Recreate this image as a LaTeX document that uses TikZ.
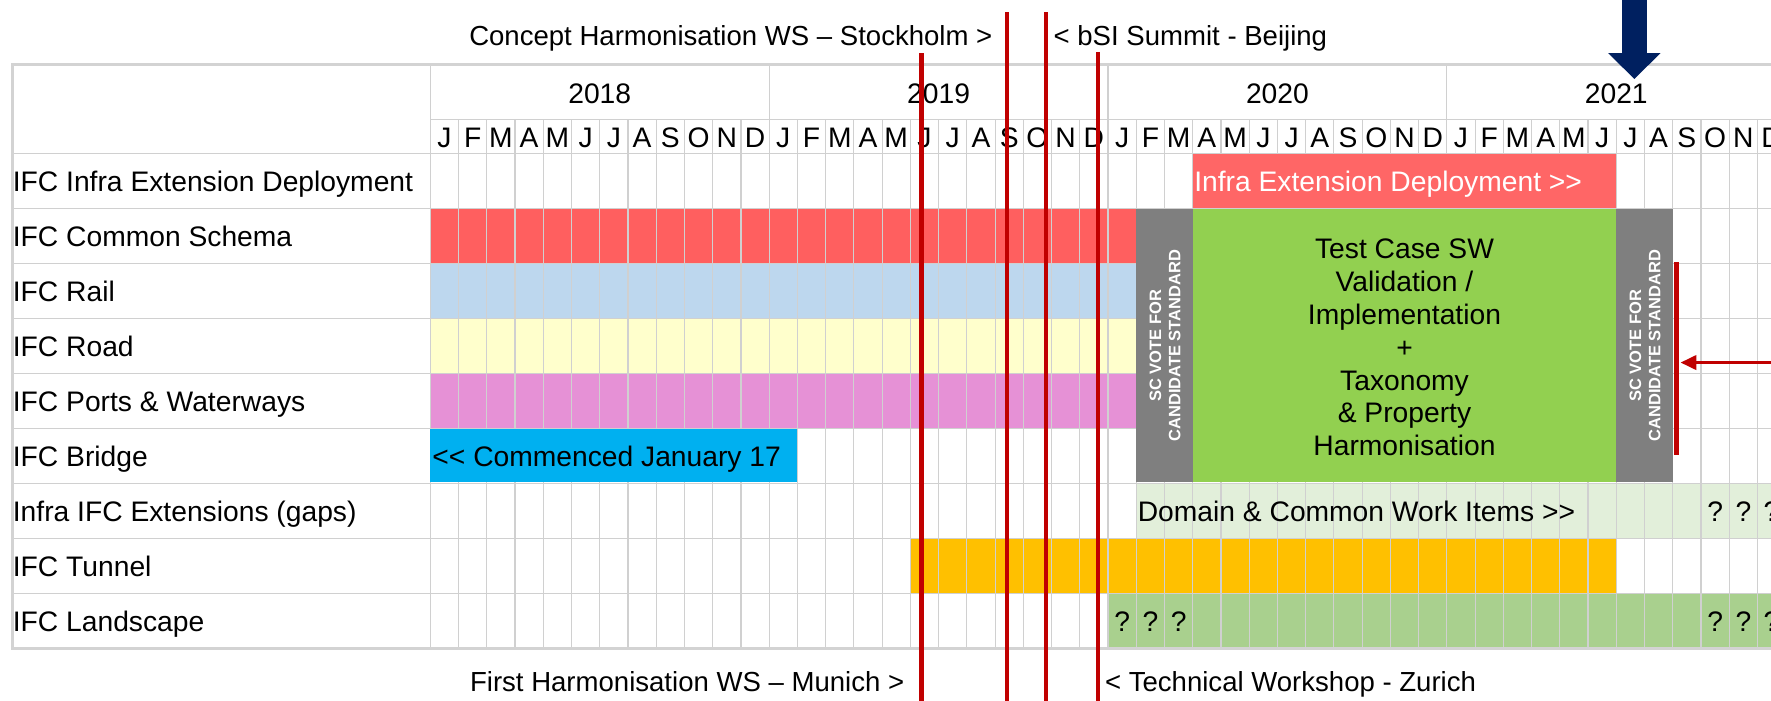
\documentclass[tikz,border=0pt]{standalone}
\usepackage{fontspec}
\setmainfont{Liberation Sans}[Ligatures=TeXOff]
\usetikzlibrary{arrows.meta}
\definecolor{cGrid}{HTML}{D0D0D0}
\definecolor{cBorder}{HTML}{D3D3D3}
\definecolor{cSchema}{HTML}{FF5F5F}
\definecolor{cDeploy}{HTML}{FF6666}
\definecolor{cRail}{HTML}{BDD7EE}
\definecolor{cRoad}{HTML}{FFFFCC}
\definecolor{cPorts}{HTML}{E691D6}
\definecolor{cBridge}{HTML}{00B0F0}
\definecolor{cVote}{HTML}{7F7F7F}
\definecolor{cTest}{HTML}{92D050}
\definecolor{cDomain}{HTML}{E2EFDA}
\definecolor{cTunnel}{HTML}{FFC000}
\definecolor{cLandsc}{HTML}{A9D08E}
\definecolor{cNavy}{HTML}{002060}
\definecolor{cMile}{HTML}{C00000}
\begin{document}
\begin{tikzpicture}[x=0.5pt,y=-0.5pt,
  declare function={ry(\r)=136+48.67*\r; mx(\k)=381+25*\k;},
  gridline/.style={draw=cGrid, line width=0.5pt},
  border/.style={draw=cBorder, line width=1.2pt},
  base/.style={font=\fontsize{12.5}{14.6}\selectfont, inner sep=0pt},
  lbl/.style={base, anchor=base west},
  cen/.style={base, anchor=base},
  ann/.style={font=\fontsize{12.2}{14}\selectfont, inner sep=0pt, anchor=base},
  votetxt/.style={font=\fontsize{7.3}{8.5}\selectfont\bfseries, text=white, rotate=90, align=center, inner sep=0pt},
  mile/.style={draw=cMile, line width=2pt},
]
\clip (0,0) rectangle (1568,620);
\fill[white] (0,0) rectangle (1568,620);

% cell fills (grid drawn over them)
\fill[cSchema] (381,{ry(1)}) rectangle (1006,{ry(2)});
\fill[cRail]   (381,{ry(2)}) rectangle (1006,{ry(3)});
\fill[cRoad]   (381,{ry(3)}) rectangle (1006,{ry(4)});
\fill[cPorts]  (381,{ry(4)}) rectangle (1006,{ry(5)});
\fill[cDomain] (1006,{ry(6)}) rectangle (1581,{ry(7)});
\fill[cTunnel] (806,{ry(7)}) rectangle (1431,{ry(8)});
\fill[cLandsc] (981,{ry(8)}) rectangle (1581,{ry(9)});

% grid
\foreach \k in {1,...,48} \draw[gridline] ({mx(\k)},105.5) -- ({mx(\k)},{ry(9)});
\foreach \r in {1,...,8} \draw[gridline] (11,{ry(\r)}) -- (1568,{ry(\r)});
\draw[gridline] (381,105.5) -- (1568,105.5);
\draw[gridline] (11,136) -- (1568,136);
\foreach \k in {12,24,36} \draw[gridline] ({mx(\k)},57) -- ({mx(\k)},105.5);
\draw[gridline] (381,57) -- (381,{ry(9)});
\draw[border] (1568,57) -- (11,57) -- (11,{ry(9)}) -- (1568,{ry(9)});

% years
\foreach \yr [count=\i from 0] in {2018,2019,2020,2021}
  \node[cen] (year-\i) at ({mx(12*\i+6)},91.5) {\yr};
% months
\foreach \yy in {0,1,2,3}
  \foreach \m [count=\i from 0] in {J,F,M,A,M,J,J,A,S,O,N,D}
    \node[cen] (mon-\yy-\i) at ({mx(12*\yy+\i+0.5)},130.3) {\m};

% row labels
\foreach \t [count=\i from 0] in {IFC Infra Extension Deployment,IFC Common Schema,IFC Rail,IFC Road,IFC Ports \& Waterways,IFC Bridge,Infra IFC Extensions (gaps),IFC Tunnel,IFC Landscape}
  \node[lbl] (row-\i) at (11,{ry(\i+0.5)+9}) {\t};

% overlay bars
\fill[cDeploy] (1056,{ry(0)+0.6}) rectangle (1431,{ry(1)-0.6});
\node[lbl, text=white] (deptxt) at (1057,{ry(0.5)+9}) {Infra Extension Deployment >>};

\fill[cBridge] (381,{ry(5)+0.8}) rectangle (706,{ry(6)-1});
\node[lbl] (bridgetxt) at (382.5,{ry(5.5)+9}) {<< Commenced January 17};

\fill[cVote]  (1006,{ry(1)+0.5}) rectangle (1056,427);
\fill[cTest]  (1056,{ry(1)+0.5}) rectangle (1431,427);
\fill[cVote]  (1431,{ry(1)+0.5}) rectangle (1481,427);
\node[votetxt] (vote1) at (1031.5,306) {SC VOTE FOR\\CANDIDATE STANDARD};
\node[votetxt] (vote2) at (1456.5,306) {SC VOTE FOR\\CANDIDATE STANDARD};
\node[base, align=center] (testtxt) at (1243.5,307.5)
  {Test Case SW\\Validation /\\Implementation\\+\\Taxonomy\\\& Property\\Harmonisation};

\node[lbl] (domtxt) at (1007,{ry(6.5)+9}) {Domain \& Common Work Items >>};
\foreach \k [count=\i] in {45,46,47}
  \node[cen] (q6-\i) at ({mx(\k+0.5)},{ry(6.5)+9}) {?};
\foreach \k [count=\i] in {24,25,26,45,46,47}
  \node[cen] (q8-\i) at ({mx(\k+0.5)},{ry(8.5)+9}) {?};

% milestone annotations
\node[ann, anchor=base east] (stock) at (879,40.7) {Concept Harmonisation WS – Stockholm >};
\node[ann, anchor=base west] (bsi) at (932.5,40.7) {< bSI Summit - Beijing};
\node[ann, anchor=base east] (munich) at (801,612.3) {First Harmonisation WS – Munich >};
\node[ann, anchor=base west] (zurich) at (978,612.3) {< Technical Workshop - Zurich};

% milestone lines
\coordinate (m1t) at (816,47);   \coordinate (m1b) at (816,625);
\coordinate (m2t) at (891.5,11); \coordinate (m2b) at (891.5,625);
\coordinate (m3t) at (926,11);   \coordinate (m3b) at (926,625);
\coordinate (m4t) at (972,46);   \coordinate (m4b) at (972,625);
\draw[mile] (m1t) -- (m1b);
\draw[mile] (m2t) -- (m2b);
\draw[mile] (m3t) -- (m3b);
\draw[mile] (m4t) -- (m4b);

% red bar and arrow at right
\coordinate (vb-t) at (1484,232);
\coordinate (vb-b) at (1484,403);
\draw[cMile, line width=2.3pt] (vb-t) -- (vb-b);
\coordinate (arr-s) at (1580,321);
\coordinate (arr-e) at (1488,321);
\draw[cMile, line width=1pt, -{Triangle[length=7pt,width=6.5pt]}] (arr-s) -- (arr-e);

% navy arrow
\coordinate (nv-s) at (1447,-10);
\coordinate (nv-e) at (1447,70);
\draw[cNavy, line width=11pt, -{Triangle[length=11.5pt,width=22.5pt]}] (nv-s) -- (nv-e);
\end{tikzpicture}
\end{document}
